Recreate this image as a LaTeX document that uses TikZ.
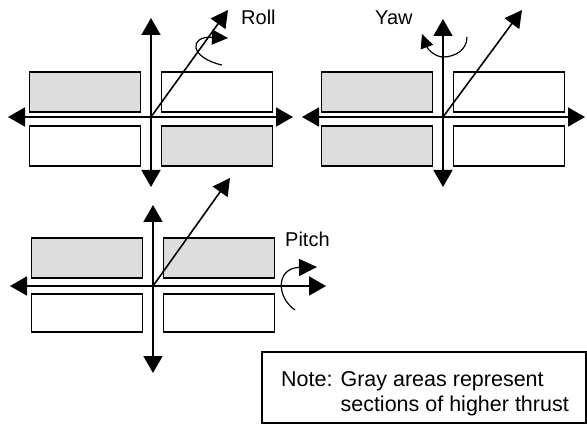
\documentclass[tikz,border=0pt]{standalone}
\usepackage{fontspec}
\setmainfont{Liberation Sans}
\usepackage{xcolor}
\definecolor{thrustgray}{RGB}{221,221,221}
\usepackage{tikz}
\usetikzlibrary{arrows.meta}
\tikzset{
    thruster/.style={draw, line width=1.8pt, minimum width=111pt, minimum height=40pt, inner sep=0pt},
    hot/.style={thruster, fill=thrustgray},
    axis/.style={line width=1.8pt, -{Triangle[length=17pt,width=19pt]}},
    diag/.style={line width=1.6pt, -{Triangle[length=17pt,width=18pt]}},
    curl/.style={line width=1.2pt, -{Triangle[length=16pt,width=15pt]}},
    word/.style={anchor=base west, inner sep=0pt, font=\fontsize{20}{24}\selectfont},
    noteword/.style={word, font=\fontsize{21.5}{25}\selectfont},
    notebox/.style={draw, line width=1.5pt, minimum width=324pt, minimum height=71pt, inner sep=0pt},
}

\begin{document}
\begin{tikzpicture}[x=1pt, y=-1pt]
    \useasboundingbox (0,0) rectangle (587,425);

    % roll
    \begin{scope}[shift={(151,117)}]
        \node[hot] (roll-nw) at (-66,-25) {};
        \node[thruster] (roll-ne) at (66,-25) {};
        \node[thruster] (roll-sw) at (-66,29) {};
        \node[hot] (roll-se) at (66,29) {};
        \path
            coordinate (roll-o) at (0,0)
            coordinate (roll-w) at (-143,0)
            coordinate (roll-e) at (142,0)
            coordinate (roll-n) at (0,-99)
            coordinate (roll-s) at (0,70)
            coordinate (roll-d) at (77,-107)
            coordinate (roll-c1) at (71,-52)
            coordinate (roll-c2) at (77,-79);
        \draw[axis] (roll-o) -- (roll-w);
        \draw[axis] (roll-o) -- (roll-e);
        \draw[axis] (roll-o) -- (roll-n);
        \draw[axis] (roll-o) -- (roll-s);
        \draw[curl] (roll-c1) .. controls (39,-59) and (37,-81) .. (roll-c2);
        \draw[diag] (roll-o) -- (roll-d);
        \node[word] (roll-label) at (90,-92) {Roll};
    \end{scope}

    % yaw
    \begin{scope}[shift={(443,117)}]
        \node[hot] (yaw-nw) at (-66,-25) {};
        \node[thruster] (yaw-ne) at (66,-25) {};
        \node[hot] (yaw-sw) at (-66,29) {};
        \node[thruster] (yaw-se) at (66,29) {};
        \path
            coordinate (yaw-o) at (0,0)
            coordinate (yaw-w) at (-141,0)
            coordinate (yaw-e) at (142,0)
            coordinate (yaw-n) at (0,-98)
            coordinate (yaw-s) at (0,70)
            coordinate (yaw-d) at (79,-107)
            coordinate (yaw-c1) at (24,-80)
            coordinate (yaw-c2) at (-21,-83);
        \draw[axis] (yaw-o) -- (yaw-w);
        \draw[axis] (yaw-o) -- (yaw-e);
        \draw[axis] (yaw-o) -- (yaw-n);
        \draw[axis] (yaw-o) -- (yaw-s);
        \draw[diag] (yaw-o) -- (yaw-d);
        \draw[curl, -{Triangle[length=14pt,width=13pt]}] (yaw-c1) .. controls (24,-67) and (12,-60) .. (0,-60)
            .. controls (-7,-60) and (-15,-67) .. (yaw-c2);
        \node[word] (yaw-label) at (-68,-92) {Yaw};
    \end{scope}

    % pitch
    \begin{scope}[shift={(153,286)}]
        \node[hot] (pitch-nw) at (-66,-28) {};
        \node[hot] (pitch-ne) at (66,-28) {};
        \node[thruster, minimum height=38pt] (pitch-sw) at (-66,27) {};
        \node[thruster, minimum height=38pt] (pitch-se) at (66,27) {};
        \path
            coordinate (pitch-o) at (0,0)
            coordinate (pitch-w) at (-143,0)
            coordinate (pitch-e) at (173,0)
            coordinate (pitch-n) at (0,-81)
            coordinate (pitch-s) at (0,87)
            coordinate (pitch-d) at (77,-108)
            coordinate (pitch-c1) at (142,24)
            coordinate (pitch-c2) at (164,-19);
        \draw[axis] (pitch-o) -- (pitch-w);
        \draw[axis] (pitch-o) -- (pitch-e);
        \draw[axis] (pitch-o) -- (pitch-n);
        \draw[axis] (pitch-o) -- (pitch-s);
        \draw[diag] (pitch-o) -- (pitch-d);
        \draw[curl, -{Triangle[length=18pt,width=17pt]}] (pitch-c1) .. controls (123,11) and (123,-18) .. (pitch-c2);
        \node[word] (pitch-label) at (132,-39) {Pitch};
    \end{scope}

    % note
    \node[notebox] (note) at (424,387.5) {};
    \node[noteword] (note-1) at (281,386) {Note: Gray areas represent};
    \node[noteword] (note-2) at (281,411) {\hphantom{Note: }sections of higher thrust};
\end{tikzpicture}
\end{document}
